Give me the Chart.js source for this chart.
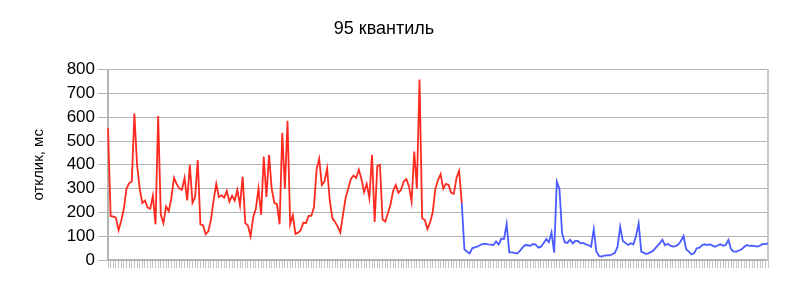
<!DOCTYPE html>
<html>
<head>
<meta charset="utf-8">
<script src="https://cdn.jsdelivr.net/npm/chart.js@4.4.1/dist/chart.umd.min.js"></script>
<style>
  body { margin: 0; background: #fff; }
  #wrap { width: 800px; height: 294px; }
</style>
</head>
<body>
<div id="wrap"><canvas id="quantileChart"></canvas></div>
<script>
// 95th percentile response times (ms)
const redValues = [
  555, 185, 182, 178, 125, 165, 215, 300, 322, 330,
  615, 400, 300, 240, 250, 220, 215, 270, 150, 605,
  190, 155, 225, 205, 260, 345, 320, 300, 295, 345,
  250, 400, 240, 265, 420, 150, 145, 108, 120, 170,
  250, 320, 265, 272, 262, 290, 245, 270, 250, 295,
  230, 350, 155, 145, 100, 180, 215, 300, 190, 435,
  265, 442, 300, 240, 235, 150, 534, 300, 585, 150,
  188, 110, 115, 125, 157, 155, 185, 185, 220, 380,
  425, 315, 330, 385, 250, 175, 160, 140, 115, 190,
  260, 300, 340, 355, 345, 380, 340, 285, 320, 260,
  442, 160, 395, 400, 170, 162, 195, 232, 290, 315,
  282, 295, 330, 340, 310, 245, 456, 300, 758, 175,
  168, 130, 158, 200, 300, 335, 361, 300, 320, 315,
  282, 278, 345, 375, 240
];
// second series starts on the last red point
const blueValues = [
  240, 45, 35, 28, 50, 53, 57, 63, 68, 68,
  66, 65, 63, 78, 65, 90, 88, 152, 32, 32,
  30, 27, 38, 52, 63, 62, 60, 67, 65, 52,
  56, 70, 88, 75, 116, 31, 330, 300, 112, 75,
  72, 85, 70, 80, 80, 70, 72, 66, 63, 56,
  129, 35, 17, 14, 18, 19, 20, 24, 30, 55,
  140, 80, 72, 63, 70, 66, 100, 154, 35, 30,
  25, 30, 35, 45, 58, 70, 85, 62, 68, 60,
  56, 58, 65, 80, 101, 45, 35, 24, 28, 49,
  52, 62, 66, 63, 66, 60, 56, 62, 66, 60,
  63, 84, 45, 35, 35, 40, 45, 55, 63, 59,
  60, 58, 56, 60, 68, 67, 70
];
const yTicks = [0, 100, 200, 300, 400, 500, 600, 700, 800];

const pointCount = redValues.length + blueValues.length - 1;
const categories = [];
for (let i = 0; i < pointCount; i++) categories.push(String(i + 1));

const redData = redValues.concat(new Array(pointCount - redValues.length).fill(null));
const blueData = new Array(pointCount - blueValues.length).fill(null).concat(blueValues);

const fontFamily = "'Liberation Sans', Arial, sans-serif";
const axisGray = '#b3b3b3';

const ctx = document.getElementById('quantileChart').getContext('2d');
new Chart(ctx, {
  type: 'line',
  data: {
    labels: categories,
    datasets: [
      { data: redData, borderColor: '#ff2a1f', borderWidth: 1.8, pointRadius: 0, tension: 0, spanGaps: false },
      { data: blueData, borderColor: '#4a5cff', borderWidth: 1.8, pointRadius: 0, tension: 0, spanGaps: false }
    ]
  },
  options: {
    responsive: true,
    maintainAspectRatio: false,
    animation: false,
    layout: { padding: { left: 0, right: 32, top: 0, bottom: 0 } },
    plugins: {
      legend: { display: false },
      tooltip: { enabled: false },
      title: {
        display: true,
        text: '95 квантиль',
        color: '#000',
        font: { family: fontFamily, size: 18, weight: 'normal' },
        padding: { top: 18, bottom: 30 }
      }
    },
    scales: {
      x: {
        type: 'category',
        offset: false,
        grid: { display: true, drawOnChartArea: false, drawTicks: true, tickLength: 8, color: '#c4c4c4' },
        border: { color: axisGray, width: 2 },
        ticks: { display: false, autoSkip: false },
        afterFit(scale) { scale.height = 34; }
      },
      y: {
        min: 0,
        max: 800,
        afterBuildTicks(scale) { scale.ticks = yTicks.map(v => ({ value: v })); },
        ticks: { color: '#000', font: { family: fontFamily, size: 17 }, padding: 3 },
        grid: { color: axisGray, tickLength: 10 },
        border: { color: axisGray, width: 2 },
        title: {
          display: true,
          text: 'отклик, мс',
          color: '#000',
          font: { family: fontFamily, size: 15 },
          padding: { top: 30, bottom: 0 }
        },
        afterFit(scale) { scale.width = 108; }
      },
      y2: {
        position: 'right',
        min: 0,
        max: 800,
        ticks: { display: false },
        grid: { display: false, drawTicks: false },
        border: { color: '#c8c8c8', width: 2 },
        afterFit(scale) { scale.width = 0; }
      }
    }
  }
});
</script>
</body>
</html>
